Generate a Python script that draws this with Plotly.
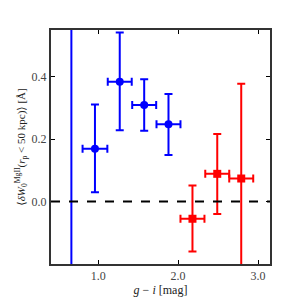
import plotly.graph_objects as go

# Blue (first) sample
blue_x = [0.665, 0.96, 1.27, 1.576, 1.88]
blue_y = [0.9, 0.169, 0.384, 0.31, 0.248]
blue_yerr_plus = [2.0, 0.142, 0.158, 0.082, 0.097]
blue_yerr_minus = [2.0, 0.139, 0.155, 0.083, 0.099]
blue_xerr = [0.15, 0.155, 0.15, 0.15, 0.15]

# Red sample
red_x = [2.18, 2.49, 2.79]
red_y = [-0.055, 0.089, 0.074]
red_yerr_plus = [0.107, 0.128, 0.304]
red_yerr_minus = [0.105, 0.129, 0.30]
red_xerr = [0.15, 0.15, 0.15]

x_ticks = [1.0, 2.0, 3.0]
y_ticks = [0.0, 0.2, 0.4]

font = "Liberation Serif, DejaVu Serif, serif"

fig = go.Figure()
fig.add_hline(y=0, line=dict(color="black", width=2, dash="dash"))
fig.add_trace(go.Scatter(
    x=blue_x, y=blue_y, mode="markers",
    marker=dict(color="blue", size=8, symbol="circle"),
    error_y=dict(type="data", symmetric=False, array=blue_yerr_plus, arrayminus=blue_yerr_minus,
                 color="blue", thickness=2, width=4),
    error_x=dict(type="data", array=blue_xerr, color="blue", thickness=2, width=4),
    cliponaxis=True, showlegend=False))
fig.add_trace(go.Scatter(
    x=red_x, y=red_y, mode="markers",
    marker=dict(color="red", size=8, symbol="square"),
    error_y=dict(type="data", symmetric=False, array=red_yerr_plus, arrayminus=red_yerr_minus,
                 color="red", thickness=2, width=4),
    error_x=dict(type="data", array=red_xerr, color="red", thickness=2, width=4),
    cliponaxis=True, showlegend=False))

axis_common = dict(showgrid=False, zeroline=False, showline=True, linecolor="#333333", linewidth=2,
                   mirror="ticks", ticks="inside", ticklen=4, tickwidth=1, tickcolor="black",
                   tickfont=dict(family=font, size=12, color="#444444"))
fig.update_xaxes(range=[0.41, 3.15], tickvals=x_ticks, ticktext=[f"{v:.1f}" for v in x_ticks],
                 title=dict(text="<i>g</i> − <i>i</i> [mag]", font=dict(family=font, size=12, color="#222222"),
                            standoff=0),
                 **axis_common)
fig.update_yaxes(range=[-0.2, 0.55], tickvals=y_ticks, ticktext=[f"{v:.1f}" for v in y_ticks],
                 title=dict(text="⟨<i>δW</i><sub>0</sub><sup>MgII</sup>(<i>r</i><sub>p</sub> < 50 kpc)⟩ [Å]",
                            font=dict(family=font, size=11, color="#222222"), standoff=4),
                 **axis_common)
fig.update_layout(width=300, height=300, margin=dict(l=37, r=38, t=22, b=44),
                  plot_bgcolor="white", paper_bgcolor="white")
fig.write_html("out.html")
